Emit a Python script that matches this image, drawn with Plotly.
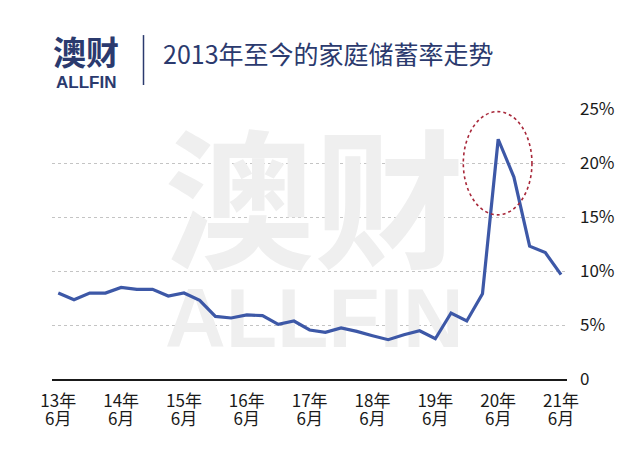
import plotly.graph_objects as go

# ---- data ----
quarters = [f"{y}Q{q}" for y in range(13, 22) for q in (2, 3, 4, 1)][:33]
saving_rate = [7.96, 7.34, 7.96, 7.96, 8.48, 8.30, 8.30, 7.68, 7.96, 7.28,
               5.80, 5.65, 5.93, 5.87, 5.06, 5.37, 4.54, 4.32, 4.72, 4.41,
               4.01, 3.64, 4.10, 4.47, 3.73, 6.11, 5.37, 7.90, 22.2, 18.7,
               12.3, 11.7, 9.66]
year_labels = ["13年", "14年", "15年", "16年", "17年", "18年", "19年", "20年", "21年"]
month_labels = ["6月"] * 9
y_tick_vals = [0, 5, 10, 15, 20, 25]
y_tick_text = ["0", "5%", "10%", "15%", "20%", "25%"]
title_text = "2013年至今的家庭储蓄率走势"

# ---- geometry ----
W, H = 640, 454
L, R, T, B = 52, 567, 109, 379.3
idx = list(range(len(saving_rate)))
tick_idx = idx[::4]

def px(x):
    return (x - L) / (R - L)

def py(y):
    return (B - y) / (B - T)

NAVY = "#2b3a6e"
CJK = "Noto Sans CJK SC"

fig = go.Figure()

# watermark (drawn first, beneath the line)
fig.add_trace(go.Scatter(
    x=[16.3], y=[14.8], mode="text", text=["澳财"],
    textfont=dict(family=CJK, size=150, color="#efefef", weight="bold"),
    hoverinfo="skip", showlegend=False, cliponaxis=False))
fig.add_trace(go.Scatter(
    x=[16.3], y=[4.95], mode="text", text=["ALLFIN"],
    textfont=dict(family="Liberation Sans", size=84, color="#efefef", weight="bold"),
    hoverinfo="skip", showlegend=False, cliponaxis=False))

fig.add_trace(go.Scatter(
    x=idx, y=saving_rate, mode="lines",
    line=dict(color="#3d58a7", width=3.2),
    hoverinfo="skip", showlegend=False, cliponaxis=False))

# helper trace for the second row of x tick labels
fig.add_trace(go.Scatter(
    x=tick_idx, y=[None] * len(tick_idx), xaxis="x2", mode="markers",
    hoverinfo="skip", showlegend=False))

# dotted ellipse around the peak
fig.add_shape(type="circle", xref="x", yref="y",
              x0=25.78, x1=30.15, y0=15.2, y1=24.76,
              line=dict(color="#a8283a", width=1.6, dash="dot"))

# divider in the header
fig.add_shape(type="line", xref="paper", yref="paper",
              x0=px(143.5), x1=px(143.5), y0=py(35), y1=py(85),
              line=dict(color=NAVY, width=1.5))

fig.add_annotation(xref="paper", yref="paper", x=px(51), y=py(51),
                   xanchor="left", yanchor="middle", showarrow=False,
                   text="澳财",
                   font=dict(family=CJK, size=33, color=NAVY, weight="bold"))
fig.add_annotation(xref="paper", yref="paper", x=px(54), y=py(82),
                   xanchor="left", yanchor="middle", showarrow=False,
                   text="ALLFIN",
                   font=dict(family="Liberation Sans", size=17, color=NAVY, weight="bold"))
fig.add_annotation(xref="paper", yref="paper", x=px(161), y=py(53),
                   xanchor="left", yanchor="middle", showarrow=False,
                   text=title_text,
                   font=dict(family=CJK, size=25, color=NAVY))

axis_font = dict(family=CJK, size=17, color="#1a1a1a")
fig.update_layout(
    width=W, height=H,
    margin=dict(l=L, r=W - R, t=T, b=H - B, pad=0),
    paper_bgcolor="white", plot_bgcolor="white",
    xaxis=dict(range=[-0.40, 32.38], tickmode="array", tickvals=tick_idx,
               ticktext=year_labels, showgrid=False, zeroline=False,
               showline=True, linecolor="#1a1a1a", linewidth=2,
               ticks="", tickfont=axis_font, ticklabelstandoff=6,
               fixedrange=True),
    xaxis2=dict(overlaying="x", matches="x", side="bottom", anchor="y",
                tickmode="array", tickvals=tick_idx, ticktext=month_labels,
                showgrid=False, zeroline=False, showline=False, ticks="",
                tickfont=axis_font, ticklabelstandoff=28),
    yaxis=dict(range=[0, 25], side="right", tickmode="array",
               tickvals=y_tick_vals, ticktext=y_tick_text,
               showgrid=True, gridcolor="#c4c4c4", gridwidth=1, griddash="dot",
               zeroline=False, showline=False, ticks="",
               tickfont=axis_font, ticklabelstandoff=12, fixedrange=True),
    showlegend=False,
)

fig.write_html("out.html")
